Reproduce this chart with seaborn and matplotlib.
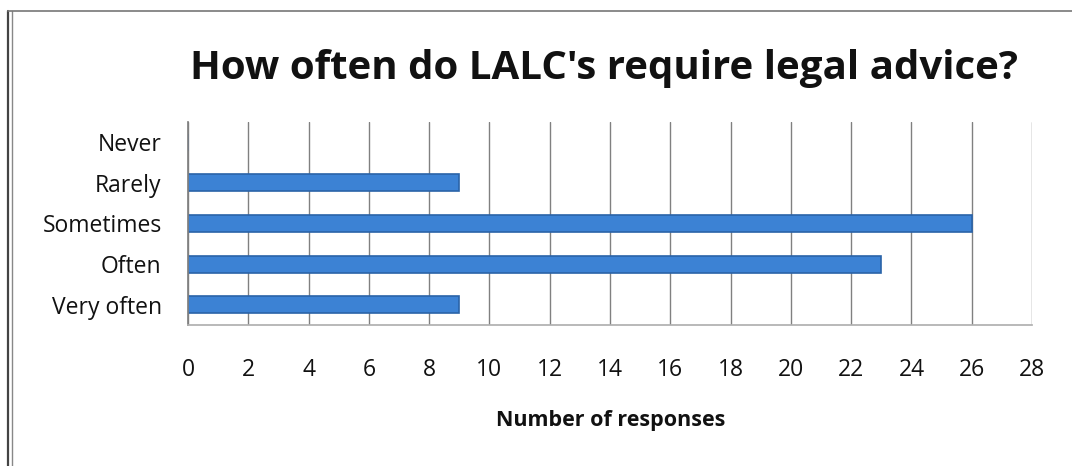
import matplotlib
matplotlib.use("Agg")
import matplotlib.pyplot as plt
import seaborn as sns
import pandas as pd
from matplotlib.lines import Line2D

categories = ["Never", "Rarely", "Sometimes", "Often", "Very often"]
responses = [0, 9, 26, 23, 9]
x_ticks = list(range(0, 29, 2))
title = "How often do LALC's require legal advice?"
x_label = "Number of responses"

sns.set_theme(style="white")
plt.rcParams["font.family"] = ["Open Sans", "DejaVu Sans"]

df = pd.DataFrame({"category": categories, "responses": responses})

fig = plt.figure(figsize=(10.72, 4.66), dpi=100)
ax = fig.add_axes([0.1754, 0.3026, 0.7873, 0.4356])

sns.barplot(data=df, x="responses", y="category", order=categories,
            color="#3c82d4", edgecolor="#2a63a8", linewidth=1.2,
            width=0.42, saturation=1, ax=ax)

ax.set_xlim(0, 28)
ax.set_ylim(4.5, -0.5)
ax.set_xticks(x_ticks)
ax.set_xticklabels([str(t) for t in x_ticks], fontsize=16.5)
ax.tick_params(axis="x", length=4, pad=20, color="#777777", labelcolor="#111111")
ax.tick_params(axis="y", length=0, pad=19, labelsize=16.5, labelcolor="#111111")
ax.set_ylabel("")
ax.set_xlabel("")
ax.grid(axis="x", color="#808080", linewidth=1.0)
ax.set_axisbelow(True)
for s in ["top", "right"]:
    ax.spines[s].set_visible(False)
ax.spines["left"].set_color("#808080")
ax.spines["bottom"].set_color("#b0b0b0")

fig.text(0.5695, 0.097, x_label, ha="center", va="center", fontsize=15.5,
         fontweight="bold", color="#111111")
fig.text(0.5634, 0.853, title, ha="center", va="center", fontsize=29,
         fontweight="bold", color="#111111")

# frame lines of the scanned chart
fig.add_artist(Line2D([0.0075, 0.0075], [0.0, 0.977], transform=fig.transFigure,
                      color="#444444", linewidth=1.6))
fig.add_artist(Line2D([0.0115, 0.0115], [0.0, 0.977], transform=fig.transFigure,
                      color="#888888", linewidth=1.0))
fig.add_artist(Line2D([0.0075, 1.0], [0.977, 0.977], transform=fig.transFigure,
                      color="#777777", linewidth=1.2))

fig.savefig("out.png", dpi=100)
